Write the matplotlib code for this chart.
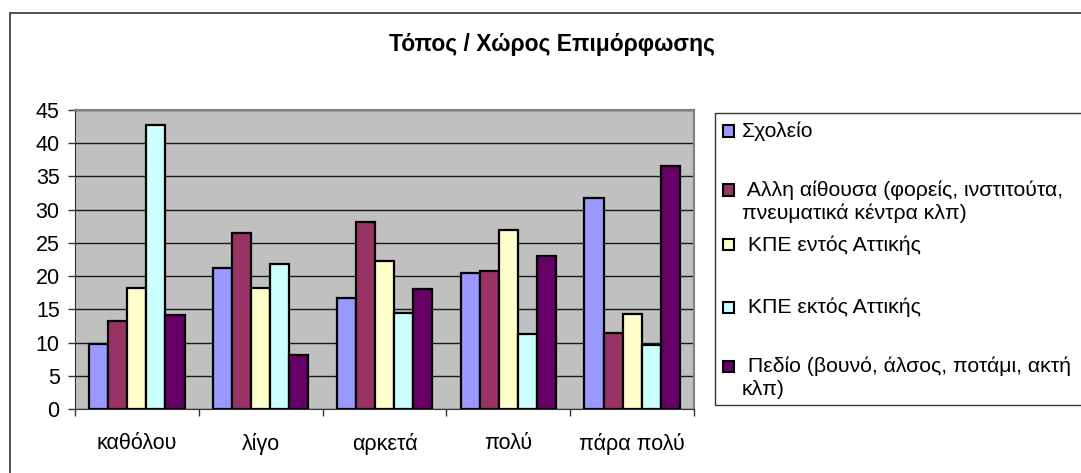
import matplotlib
matplotlib.use("Agg")
import matplotlib.pyplot as plt
import numpy as np
from matplotlib.patches import Rectangle

plt.rcParams['font.family'] = ['Liberation Sans', 'DejaVu Sans']

categories = ["καθόλου", "λίγο", "αρκετά", "πολύ", "πάρα πολύ"]
series_names = ["Σχολείο",
                " Αλλη αίθουσα (φορείς, ινστιτούτα,\nπνευματικά κέντρα κλπ)",
                " ΚΠΕ εντός Αττικής",
                " ΚΠΕ εκτός Αττικής",
                " Πεδίο (βουνό, άλσος, ποτάμι, ακτή\nκλπ)"]
scholeio = [9.8, 21.2, 16.7, 20.5, 31.8]
alli_aithousa = [13.2, 26.5, 28.1, 20.7, 11.5]
kpe_entos = [18.2, 18.2, 22.2, 27.0, 14.3]
kpe_ektos = [42.8, 21.8, 14.5, 11.3, 9.6]
pedio = [14.2, 8.2, 18.0, 23.1, 36.5]
series = [scholeio, alli_aithousa, kpe_entos, kpe_ektos, pedio]
colors = ["#9999FF", "#993366", "#FFFFCC", "#CCFFFF", "#660066"]

W, H = 1081, 473
fig = plt.figure(figsize=(W / 100, H / 100), dpi=100)

# outer chart frame (runs off the right and bottom)
fig.patches.append(Rectangle((10 / W, -0.2), 1.5, 1.2 - 13 / H,
                             transform=fig.transFigure, fill=False,
                             edgecolor="#333333", lw=1.2))

ax = fig.add_axes([75 / W, 1 - 409 / H, (694 - 75) / W, (409 - 110) / H])
ax.set_facecolor("#C0C0C0")

n = len(series)
w = 1 / 6.5
x = np.arange(len(categories)) + 0.5
for i, (vals, c) in enumerate(zip(series, colors)):
    ax.bar(x + (i - (n - 1) / 2) * w, vals, width=w, color=c,
           edgecolor="black", linewidth=1.6, zorder=3)

ax.set_xlim(0, len(categories))
ax.set_ylim(0, 45)
ax.set_yticks(np.arange(0, 46, 5))
ax.yaxis.grid(True, color="#1a1a1a", linewidth=1.0, zorder=1)
ax.set_axisbelow(True)

ax.set_xticks(x)
ax.set_xticklabels(categories)
ax.set_xticks(np.arange(0, len(categories) + 1), minor=True)
ax.tick_params(axis="x", which="major", length=0, pad=17, labelsize=15.5)
ax.tick_params(axis="x", which="minor", length=5, width=1, color="#333333")
ax.tick_params(axis="y", length=5, width=1, pad=6, labelsize=15.5, color="#333333")

for s in ["top", "right"]:
    ax.spines[s].set_color("#808080")
    ax.spines[s].set_linewidth(1.5)
ax.spines["left"].set_color("#333333")
ax.spines["bottom"].set_color("#333333")

fig.text(552 / W, 1 - 45 / H, "Τόπος / Χώρος Επιμόρφωσης", ha="center",
         va="center", fontsize=16.5, fontweight="bold")

# legend box
fig.patches.append(Rectangle((715 / W, 1 - 405 / H), 0.5, (405 - 113) / H,
                             transform=fig.transFigure, fill=False,
                             edgecolor="#333333", lw=1.0))
leg_y = [131, 190, 245, 307, 366]
for name, c, yy in zip(series_names, colors, leg_y):
    fig.patches.append(Rectangle((723 / W, 1 - (yy + 5.5) / H), 11 / W, 11 / H,
                                 transform=fig.transFigure, facecolor=c,
                                 edgecolor="black", lw=1.5))
    for k, line in enumerate(name.split("\n")):
        fig.text(742 / W, 1 - (yy + 23.5 * k) / H, line, ha="left",
                 va="center", fontsize=15.3)

fig.savefig("out.png", dpi=100)
